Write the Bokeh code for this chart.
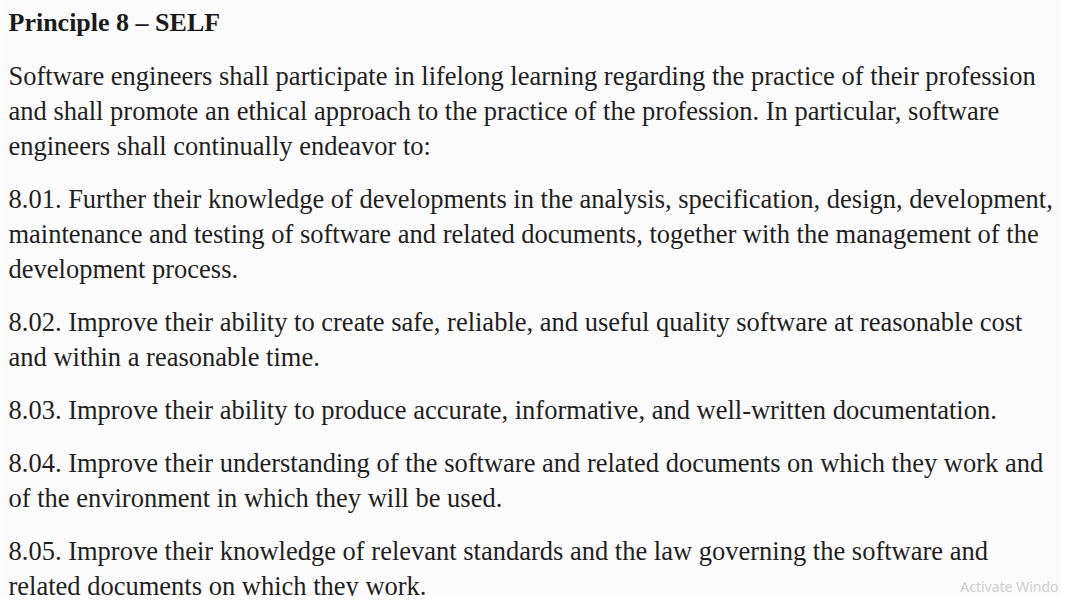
from bokeh.plotting import figure
from bokeh.models import ColumnDataSource, Range1d
from bokeh.core.properties import value
from bokeh.embed import file_html
from bokeh.resources import INLINE

# ── Content ─────────────────────────────────────────────────────
heading = "Principle 8 \u2013 SELF"

paragraphs = [
    ["Software engineers shall participate in lifelong learning regarding the practice of their profession",
     "and shall promote an ethical approach to the practice of the profession. In particular, software",
     "engineers shall continually endeavor to:"],
    ["8.01. Further their knowledge of developments in the analysis, specification, design, development,",
     "maintenance and testing of software and related documents, together with the management of the",
     "development process."],
    ["8.02. Improve their ability to create safe, reliable, and useful quality software at reasonable cost",
     "and within a reasonable time."],
    ["8.03. Improve their ability to produce accurate, informative, and well-written documentation."],
    ["8.04. Improve their understanding of the software and related documents on which they work and",
     "of the environment in which they will be used."],
    ["8.05. Improve their knowledge of relevant standards and the law governing the software and",
     "related documents on which they work."],
]

watermark = "Activate Windo"

# ── Layout ──────────────────────────────────────────────────────
W, H = 1061, 596
LINE = 35
PARA_GAP = 18
FONT = "Liberation Serif"

p = figure(width=W, height=H, output_backend="svg", toolbar_location=None,
           x_range=Range1d(0, W), y_range=Range1d(H, 0))
p.axis.visible = False
p.grid.visible = False
p.outline_line_color = None
p.background_fill_color = "#fbfbfb"
p.border_fill_color = "#fbfbfb"
p.min_border = 0

p.text(x=[8], y=[22], text=[heading], text_font=value(FONT),
       text_font_size="26px", text_font_style="bold", text_color="#1a1a1a",
       text_baseline="middle")

xs, ys, texts = [], [], []
y = 75
for para in paragraphs:
    for line in para:
        xs.append(8)
        ys.append(y)
        texts.append(line)
        y += LINE
    y += PARA_GAP
src = ColumnDataSource(data=dict(x=xs, y=ys, text=texts))
p.text('x', 'y', text='text', source=src, text_font=value(FONT),
       text_font_size="26.5px", text_color="#1f1f1f", text_baseline="middle")

p.text(x=[1058], y=[586], text=[watermark], text_font=value("Noto Sans"),
       text_font_size="14px", text_color="#cfcfcf", text_align="right",
       text_baseline="middle")

open("out.html", "w").write(file_html(p, INLINE))
